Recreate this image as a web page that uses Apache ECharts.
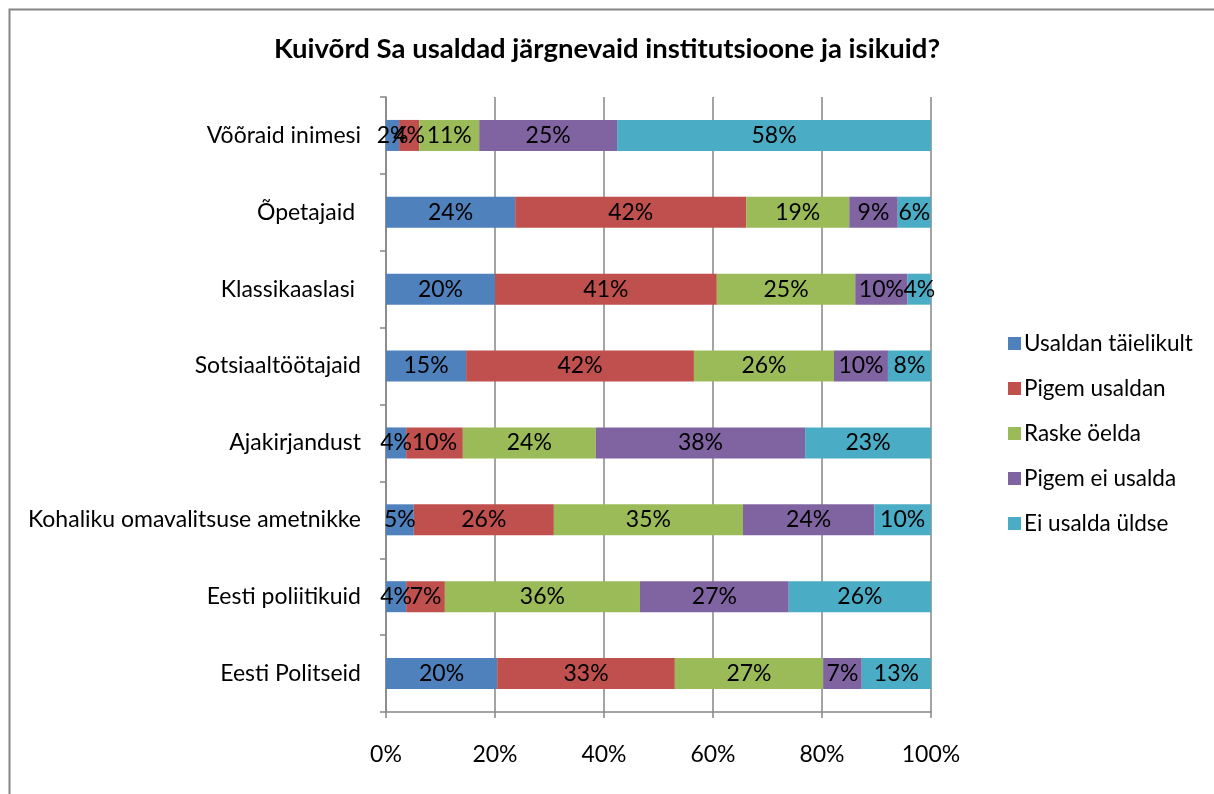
<!DOCTYPE html>
<html>
<head>
<meta charset="utf-8">
<script src="https://cdn.jsdelivr.net/npm/echarts@6/dist/echarts.min.js"></script>
<style>
  html, body { margin: 0; padding: 0; background: #fff; }
  #chart { width: 1214px; height: 794px; }
</style>
</head>
<body>
<div id="chart"></div>
<script>
// categories, top to bottom
var categories = ['Võõraid inimesi', 'Õpetajaid ', 'Klassikaaslasi ', 'Sotsiaaltöötajaid',
  'Ajakirjandust', 'Kohaliku omavalitsuse ametnikke', 'Eesti poliitikuid', 'Eesti Politseid'];
var seriesNames = ['Usaldan täielikult', 'Pigem usaldan', 'Raske öelda', 'Pigem ei usalda', 'Ei usalda üldse'];
var colors = ['#4F81BD', '#C0504D', '#9BBB59', '#8064A2', '#4BACC6'];

// shares in %
var usaldanTaielikult = [2.4, 23.7, 20.0, 14.7, 3.7, 5.1, 3.7, 20.4];
var pigemUsaldan      = [3.7, 42.4, 40.7, 41.8, 10.4, 25.7, 7.1, 32.6];
var raskeOelda        = [11.0, 18.9, 25.4, 25.7, 24.4, 34.7, 35.8, 27.2];
var pigemEiUsalda     = [25.3, 8.9, 9.6, 9.9, 38.4, 24.1, 27.3, 7.1];
var eiUsaldaUldse     = [57.6, 6.1, 4.3, 7.9, 23.1, 10.4, 26.1, 12.7];
var xTicks = [0, 20, 40, 60, 80, 100];

var allData = [usaldanTaielikult, pigemUsaldan, raskeOelda, pigemEiUsalda, eiUsaldaUldse];
var font = 'Lato';
var gray = '#868686';

var chart = echarts.init(document.getElementById('chart'));

var series = [];
for (var i = 0; i < seriesNames.length; ++i) {
  series.push({
    name: seriesNames[i],
    type: 'bar',
    stack: 'total',
    barWidth: 31,
    itemStyle: { color: colors[i] },
    label: {
      show: true,
      position: 'inside',
      color: '#000',
      fontFamily: font,
      fontSize: 23,
      formatter: function (p) { return Math.round(p.value) + '%'; }
    },
    data: allData[i]
  });
}

var option = {
  backgroundColor: '#fff',
  animation: false,
  color: colors,
  title: {
    text: 'Kuivõrd Sa usaldad järgnevaid institutsioone ja isikuid?',
    left: 'center',
    top: 30,
    textStyle: { fontFamily: font, fontWeight: 'bold', fontSize: 27.5, color: '#000' }
  },
  legend: {
    orient: 'vertical',
    left: 1003,
    top: 327,
    itemWidth: 13,
    itemHeight: 13,
    itemGap: 22,
    icon: 'rect',
    textStyle: { fontFamily: font, fontSize: 22.5, color: '#000', padding: [0, 0, 0, -2] },
    data: seriesNames
  },
  grid: { left: 386, right: 283, top: 97, bottom: 82 },
  xAxis: {
    type: 'value',
    min: xTicks[0],
    max: xTicks[xTicks.length - 1],
    interval: 20,
    axisLine: { show: true, lineStyle: { color: gray, width: 1.5 } },
    axisTick: { show: true, length: 6, lineStyle: { color: gray, width: 1.5 } },
    axisLabel: { formatter: '{value}%', fontFamily: font, fontSize: 23, color: '#000', margin: 31 },
    splitLine: { show: true, lineStyle: { color: gray, width: 1.5 } }
  },
  yAxis: {
    type: 'category',
    inverse: true,
    data: categories,
    axisLine: { show: true, lineStyle: { color: gray, width: 1.5 } },
    axisTick: { show: true, length: 6, lineStyle: { color: gray, width: 1.5 } },
    axisLabel: { fontFamily: font, fontSize: 23, color: '#000', margin: 25 }
  },
  graphic: [{
    type: 'rect',
    left: 7,
    top: 7,
    shape: { width: 1240, height: 820 },
    style: { fill: 'none', stroke: gray, lineWidth: 2 },
    silent: true
  }],
  series: series
};

chart.setOption(option);
</script>
</body>
</html>
